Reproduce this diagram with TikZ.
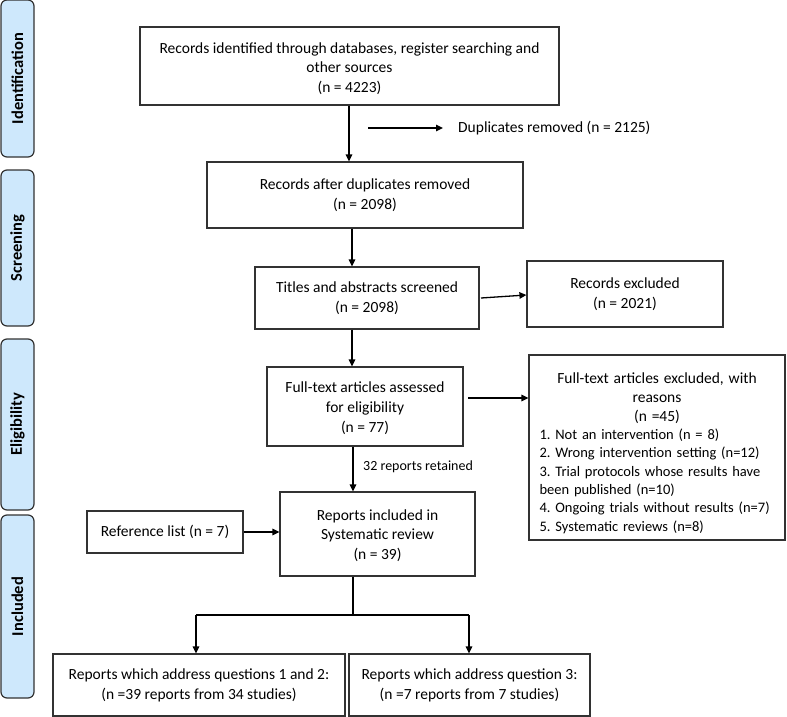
\documentclass[tikz,border=0pt]{standalone}
\usepackage{fontspec}
\setmainfont{Carlito}
\usetikzlibrary{arrows.meta}
\definecolor{sidefill}{RGB}{206,232,252}
\definecolor{edge}{RGB}{50,50,50}
\newcommand{\bigln}[1]{\makebox[\linewidth]{\fontsize{15.5}{19.5}\selectfont #1}}
\newcommand{\itemln}[1]{\makebox[\linewidth][l]{#1}}
\tikzset{
  box/.style={draw=edge, line width=1.2pt, align=center, inner sep=0pt,
    font=\fontsize{15.5}{19.8}\selectfont},
  side/.style={draw=edge, fill=sidefill, line width=1.2pt, rounded corners=6pt,
    inner sep=0pt, minimum width=33pt, rotate=90,
    font=\fontsize{16.5}{19}\selectfont\bfseries},
  arr/.style={line width=1.3pt, -{Triangle[length=7pt,width=6.5pt]}},
  ln/.style={line width=1.3pt},
  lbl/.style={inner sep=0pt, font=\fontsize{15.5}{19.5}\selectfont}
}
\begin{document}
\frenchspacing
\begin{tikzpicture}[x=1pt,y=-1pt]
\useasboundingbox (0,0) rectangle (787,717);
% side labels
\node[side, minimum width=157pt, minimum height=33pt] (sid) at (17.5,78.5) {Identification};
\node[side, minimum width=156pt, minimum height=33pt] (sscr) at (17.5,248) {Screening};
\node[side, minimum width=171pt, minimum height=33pt] (selig) at (17.5,424.5) {Eligibility};
\node[side, minimum width=183pt, minimum height=33pt] (sinc) at (17.5,606.5) {Included};
% main boxes
\node[box, minimum width=419pt, minimum height=78pt] (b1) at (349.5,66)
  {\rule{0pt}{16pt}Records identified through databases, register searching and\\ other sources\\ (n = 4223)};
\node[box, minimum width=316pt, minimum height=66pt] (b2) at (365,195)
  {Records after duplicates removed\\ (n = 2098)};
\node[box, minimum width=224pt, minimum height=62pt] (b3) at (367,298)
  {Titles and abstracts screened\\ (n = 2098)};
\node[box, minimum width=196pt, minimum height=66pt] (ex1) at (625,294)
  {Records excluded\\ (n = 2021)};
\node[box, minimum width=196pt, minimum height=79pt] (b4) at (365,406.5)
  {\rule{0pt}{14pt}Full-text articles assessed\\ for eligibility\\ (n = 77)};
\node[box, minimum width=256pt, minimum height=185pt, text width=235pt, align=left,
      font=\fontsize{14.5}{18.3}\selectfont] (ex2) at (657,447.5)
  {\rule{0pt}{22pt}\bigln{Full-text articles excluded, with}\\[0.6pt]
   \bigln{reasons}\\[0.4pt]
   \bigln{(n =45)}\\
   \itemln{1. Not an intervention (n = 8)}\\
   \itemln{2. Wrong intervention setting (n=12)}\\
   \makebox[\linewidth][s]{3. Trial protocols whose results have}\\
   \itemln{been published (n=10)}\\
   \itemln{4. Ongoing trials without results (n=7)}\\
   \itemln{5. Systematic reviews (n=8)}};
\node[box, minimum width=195pt, minimum height=84pt] (b5) at (377.5,534)
  {\rule{0pt}{14pt}Reports included in\\ Systematic review\\ (n = 39)};
\node[box, minimum width=156pt, minimum height=42pt] (ref) at (165,532)
  {Reference list (n = 7)};
\node[box, minimum width=292pt, minimum height=62pt] (b6) at (199,685)
  {Reports which address questions 1 and 2:\\ (n =39 reports from 34 studies)};
\node[box, minimum width=241pt, minimum height=62pt] (b7) at (469.5,685)
  {Reports which address question 3:\\ (n =7 reports from 7 studies)};
% labels
\node[lbl, anchor=west] (dup) at (458,128) {Duplicates removed (n = 2125)};
\node[lbl, anchor=west, font=\fontsize{14}{17}\selectfont] (ret) at (363,467) {32 reports retained};
% connectors
\draw[arr] (b1.south -| 349,0) -- (b2.north -| 349,0);
\coordinate (d0) at (368,128);
\draw[arr] (d0) -- (dup.west -| 443,0);
\draw[arr] (b2.south -| 352,0) -- (b3.north -| 352,0);
\draw[arr] (481,298) -- (ex1.west |- 0,295);
\draw[arr] (b3.south -| 352,0) -- (b4.north -| 352,0);
\draw[arr] (468,398) -- (ex2.west |- 0,398);
\draw[arr] (b4.south -| 353,0) -- (b5.north -| 353,0);
\draw[arr] (ref.east) -- (b5.west |- ref.east);
\coordinate (j) at (353,615);
\draw[ln] (b5.south -| 353,0) -- (j);
\draw[ln] (196,615) -- (469,615);
\draw[arr] (196,615) -- (b6.north -| 196,0);
\draw[arr] (469,615) -- (b7.north -| 469,0);
\end{tikzpicture}
\end{document}
